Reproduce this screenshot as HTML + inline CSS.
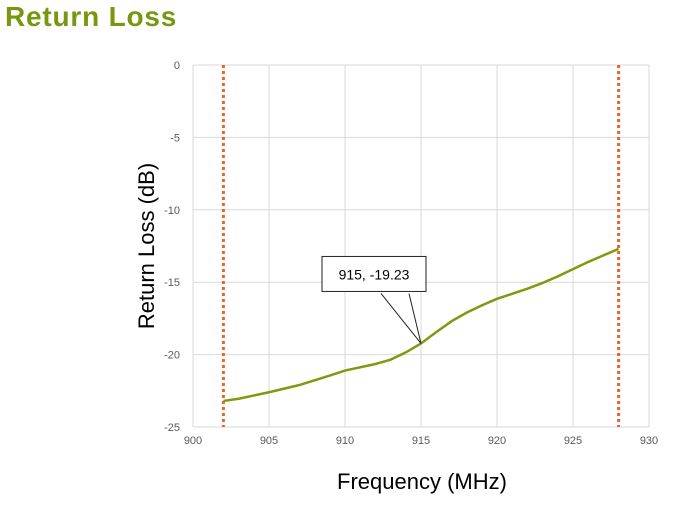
<!DOCTYPE html>
<html><head><meta charset="utf-8"><style>
body{margin:0;background:#fff;width:678px;height:508px;overflow:hidden;font-family:"Liberation Sans",sans-serif}
h1{position:absolute;left:5px;top:0;margin:0;font-size:28px;letter-spacing:0.8px;font-weight:bold;color:#77970f;line-height:34px}
</style></head><body>
<h1>Return Loss</h1>
<svg id="c" width="678" height="508" style="position:absolute;left:0;top:0"></svg>
<script>
const xTicks=[900,905,910,915,920,925,930];
const yTicks=[0,-5,-10,-15,-20,-25];
const freq=[902,903,905,907,909,910,912,913,914,915,916,917,918,919,920,922,923,924,925,926,927,928];
const rl=[-23.2,-23.05,-22.6,-22.1,-21.45,-21.1,-20.65,-20.35,-19.85,-19.23,-18.45,-17.7,-17.1,-16.6,-16.15,-15.45,-15.05,-14.6,-14.1,-13.6,-13.15,-12.7];
const markers=[902,928];
const ann={x:915,y:-19.23,label:"915, -19.23"};
const L=193,R=649,T=65,B=427;
const X=v=>L+(v-900)/30*(R-L), Y=v=>T+(0-v)/25*(B-T);
const s=document.getElementById('c');const NS='http://www.w3.org/2000/svg';
function mk(t,a,txt){const e=document.createElementNS(NS,t);for(const k in a)e.setAttribute(k,a[k]);if(txt!=null)e.textContent=txt;s.appendChild(e);return e;}
xTicks.forEach(v=>{const g=mk('line',{x1:X(v),x2:X(v),y1:T,y2:B,stroke:'#d9d9d9'});


const t=mk('text',{x:X(v),y:B+17,'font-size':11,'text-anchor':'middle',fill:'#595959'},v);

});
yTicks.forEach(v=>{const g=mk('line',{x1:L,x2:R,y1:Y(v),y2:Y(v),stroke:'#d9d9d9'});


const t=mk('text',{x:L-13,y:Y(v)+4,'font-size':11,'text-anchor':'end',fill:'#595959'},v);

});
markers.forEach(v=>{const m=mk('line',{x1:X(v),x2:X(v),y1:T,y2:B,stroke:'#e8642a','stroke-width':3,'stroke-dasharray':'3 3'});

});
const p=mk('polyline',{points:freq.map((f,i)=>X(f)+','+Y(rl[i])).join(' '),fill:'none',stroke:'#7f9a10','stroke-width':2.5});


const ax=X(ann.x),ay=Y(ann.y);
const ll=mk('polyline',{points:`${ax-40},${ay-50} ${ax},${ay} ${ax-12},${ay-50}`,fill:'none',stroke:'#222','stroke-width':1});


const bx=mk('rect',{x:ax-99,y:ay-87,width:104,height:35,fill:'#fff',stroke:'#222'});


const at=mk('text',{x:ax-47,y:ay-64,'font-size':14,'text-anchor':'middle',fill:'#000'},ann.label);


const xt=mk('text',{x:422,y:489,'font-size':22,'text-anchor':'middle',fill:'#000'},'Frequency (MHz)');


const yt=mk('text',{x:0,y:0,'font-size':22,'text-anchor':'middle',fill:'#000',transform:`translate(154,246) rotate(-90)`},'Return Loss (dB)');


</script>
</body></html>
